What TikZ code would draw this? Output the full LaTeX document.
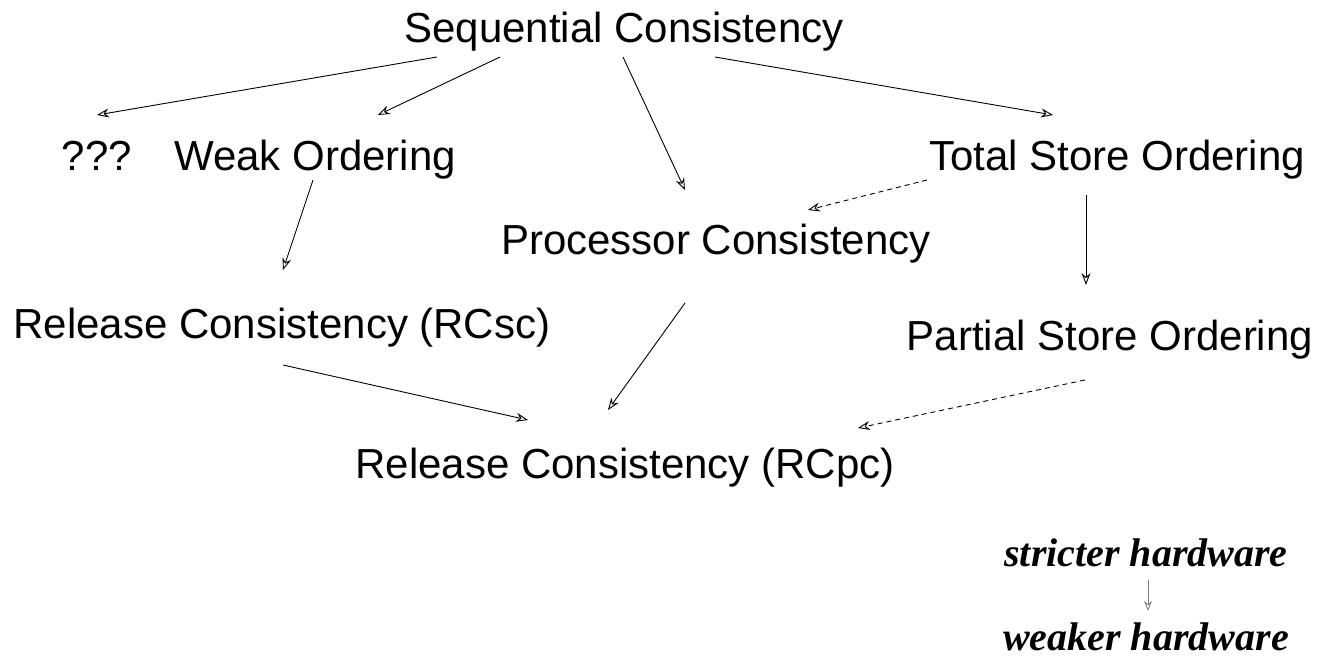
\documentclass[tikz,border=0pt]{standalone}
\usepackage{fontspec}
\setmainfont{Liberation Sans}
\newfontfamily\hwfont{Liberation Serif}
\usetikzlibrary{arrows.meta}

\tikzset{
  model/.style={anchor=base, inner sep=0pt, font=\fontsize{42}{50}\selectfont},
  legend/.style={anchor=base, inner sep=0pt, font=\hwfont\bfseries\itshape\fontsize{40}{46}\selectfont},
  arr/.style={line width=0.9pt, -{Stealth[open, length=12pt, width=9pt, inset=4pt, line width=0.9pt]}},
  weakarr/.style={arr, dash pattern=on 5pt off 4pt},
  legendarr/.style={line width=0.9pt, draw=black!50, -{Stealth[open, length=10pt, width=8pt, inset=3pt, line width=0.9pt]}}
}

\begin{document}
\begin{tikzpicture}[x=1pt, y=-1pt]
  \useasboundingbox (0,0) rectangle (1333,661);

  % memory models
  \node[model] (sc)   at (624,43)   {Sequential Consistency};
  \node[model] (qq)   at (97,170)   {???};
  \node[model] (wo)   at (315,170)  {Weak Ordering};
  \node[model] (tso)  at (1117,170) {Total Store Ordering};
  \node[model] (pc)   at (716,254)  {Processor Consistency};
  \node[model] (rcsc) at (282,338)  {Release Consistency (RCsc)};
  \node[model] (pso)  at (1110,350) {Partial Store Ordering};
  \node[model] (rcpc) at (625,478)  {Release Consistency (RCpc)};

  % legend
  \node[legend] (str) at (1146,566) {stricter hardware};
  \node[legend] (wea) at (1146,650) {weaker hardware};

  % relaxations
  \draw[arr] ([shift={(-187,14)}]sc.base) -- ([shift={(0,-55)}]qq.base);
  \draw[arr] ([shift={(-124,14)}]sc.base) -- ([shift={(63,-55)}]wo.base);
  \draw[arr] ([shift={(-1,14)}]sc.base)   -- ([shift={(-31,-64)}]pc.base);
  \draw[arr] ([shift={(91,14)}]sc.base)   -- ([shift={(-64,-55)}]tso.base);
  \draw[weakarr] ([shift={(-190,10)}]tso.base) -- ([shift={(92,-44)}]pc.base);
  \draw[arr] ([shift={(-2,10)}]wo.base)   -- ([shift={(1,-68)}]rcsc.base);
  \draw[arr] ([shift={(-31,25)}]tso.base) -- ([shift={(-24,-65)}]pso.base);
  \draw[arr] ([shift={(-31,49)}]pc.base)  -- ([shift={(-17,-68)}]rcpc.base);
  \draw[arr] ([shift={(1,27)}]rcsc.base)  -- ([shift={(-97,-58)}]rcpc.base);
  \draw[weakarr] ([shift={(-25,30)}]pso.base) -- ([shift={(233,-50)}]rcpc.base);

  \draw[legendarr] ([shift={(2,14)}]str.base) -- ([shift={(2,-39)}]wea.base);
\end{tikzpicture}
\end{document}
